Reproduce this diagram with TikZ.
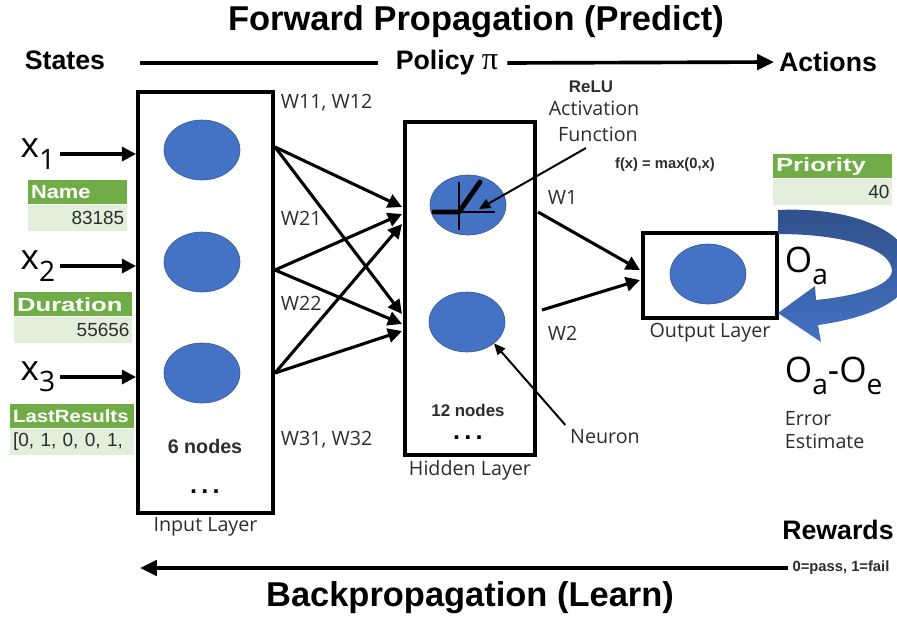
\documentclass[tikz,border=0pt]{standalone}
\usepackage{fontspec}
\setmainfont{Open Sans}
\newfontfamily\headfont{Liberation Sans}
\newfontfamily\greekfont{Liberation Serif}
\newfontfamily\cellfont[FakeStretch=1.15]{Liberation Sans}
\newfontfamily\cellwidefont[FakeStretch=1.35]{Liberation Sans}
\usetikzlibrary{arrows.meta,shapes.geometric,positioning}

\definecolor{neuronblue}{RGB}{68,114,196}
\definecolor{cellgreen}{RGB}{112,173,71}
\definecolor{celllight}{RGB}{226,239,218}
\definecolor{inktext}{RGB}{45,45,45}

\newcommand\lowsub[1]{\raisebox{-0.32em}{\fontsize{20}{20}\selectfont #1}}

\begin{document}
\begin{tikzpicture}[x=0.025cm,y=-0.025cm,
                    title/.style={font=\headfont\bfseries\fontsize{24.5}{28}\selectfont},
                    heading/.style={font=\headfont\bfseries\fontsize{19}{22}\selectfont},
                    caption/.style={font=\fontsize{14}{16}\selectfont,text=inktext},
                    weight/.style={caption,anchor=west},
                    note/.style={font=\headfont\bfseries\fontsize{10.5}{12}\selectfont,text=inktext},
                    count/.style={font=\headfont\bfseries\fontsize{12}{14}\selectfont,text=inktext,inner sep=1pt},
                    dots/.style={font=\headfont\bfseries\fontsize{18}{18}\selectfont,inner sep=0pt,
                                 text height=2.6pt,text depth=0pt},
                    symbol/.style={font=\fontsize{25}{28}\selectfont},
                    layer/.style={draw,line width=2.8pt,inner sep=0pt},
                    neuron/.style={ellipse,fill=neuronblue,draw=neuronblue!75!black,line width=0.4pt,
                                   minimum width=1.9cm,minimum height=1.5cm},
                    link/.style={line width=2.2pt,-{Triangle[length=10pt,width=10pt]}},
                    flow/.style={line width=2.6pt},
                    flow arrow/.style={flow,-{Triangle[length=12pt,width=11pt]}},
                    pointer/.style={line width=1.4pt,-{Triangle[length=8pt,width=7pt]}},
                    cell head/.style={fill=cellgreen,text=white,font=\cellfont\bfseries\fontsize{13.5}{15}\selectfont,
                                      minimum height=0.6cm,inner xsep=2pt,inner ysep=0pt,anchor=north west,align=left},
                    wide head/.style={cell head,font=\cellwidefont\bfseries\fontsize{13.5}{15}\selectfont},
                    cell value/.style={fill=celllight,text=inktext,font=\headfont\fontsize{13.5}{15}\selectfont,
                                       minimum height=0.65cm,inner xsep=2pt,inner ysep=0pt,align=right}]
    \useasboundingbox (0,0) rectangle (897,621);

    % forward pass along the top
    \node[title] (forward) at (476,22) {Forward Propagation (Predict)};
    \node[heading] (states) at (65,60) {States};
    \node[heading] (policy) at (447,63) {Policy {\greekfont\mdseries\fontsize{23}{22}\selectfont π}};
    \node[heading] (actions) at (828,62) {Actions};
    \coordinate (flow start) at (140,63);
    \draw[flow,shorten >=9pt] (flow start) -- (policy.west);
    \draw[flow arrow,shorten <=3pt] (policy.east) -- (actions.west);

    % layers
    \node[layer,minimum width=3.375cm,minimum height=10.525cm] (input) at (205.5,302.5) {};
    \node[layer,minimum width=3.25cm,minimum height=8.325cm] (hidden) at (470,288.5) {};
    \node[layer,minimum width=3.35cm,minimum height=2.125cm] (output) at (710,275.5) {};
    \node[caption,below=-2pt of input] (input label) {Input Layer};
    \node[caption,below=-1pt of hidden] (hidden label) {Hidden Layer};
    \node[caption,below=-1pt of output] (output label) {Output Layer};

    \node[neuron] (in1) at (202,150) {};
    \node[neuron] (in2) at (202,262) {};
    \node[neuron] (in3) at (202,373) {};
    \node[neuron] (h1) at (468,205) {};
    \node[neuron] (h2) at (467,322) {};
    \node[neuron] (out) at (708,274) {};

    \node[font=\headfont\bfseries\fontsize{14}{16}\selectfont,text=inktext] (input count) at (205,446) {6 nodes};
    \node[dots] (input dots) at (205,492) {.\,.\,.};
    \node[count] (hidden count) at (468,410) {12 nodes};
    \node[dots] (hidden dots) at (468,438) {.\,.\,.};

    % relu sketch inside the first hidden neuron
    \begin{scope}[shift={(h1.center)}]
        \draw[line width=1pt] (-9,-23) -- (-9,25);
        \draw[line width=1pt] (-36,7) -- (27,7);
        \draw[line width=3.5pt,line cap=round,line join=round] (-34,7) -- (-9,7) -- (12,-23);
    \end{scope}

    % inputs
    \node[symbol] (x1) at (38,154) {x\lowsub{1}};
    \node[symbol] (x2) at (38,266) {x\lowsub{2}};
    \node[symbol] (x3) at (38,377) {x\lowsub{3}};
    \draw[link] (x1.east) -- (x1.east -| input.west);
    \draw[link] (x2.east) -- (x2.east -| input.west);
    \draw[link] (x3.east) -- (x3.east -| input.west);

    \node[cell head,text width=2.33cm] (name head) at (28,180) {Name};
    \node[cell value,text width=2.33cm,below=0pt of name head] (name value) {83185};
    \node[wide head,text width=2.81cm] (duration head) at (14,292) {Duration};
    \node[cell value,text width=2.81cm,below=0pt of duration head] (duration value) {55656};
    \node[cell head,text width=2.96cm,font=\cellfont\bfseries\fontsize{12.6}{15}\selectfont] (results head) at (10,404) {LastResults};
    \node[cell value,text width=2.96cm,align=left,below=0pt of results head] (results value) {[0, 1, 0, 0, 1,};

    % weights between the layers
    \coordinate (s1) at (275,147);
    \coordinate (s2) at (275,270);
    \coordinate (s3) at (275,373);
    \coordinate (t1a) at (402,207);
    \coordinate (t2a) at (402,214);
    \coordinate (t3a) at (402,224);
    \coordinate (t1b) at (402,314);
    \coordinate (t2b) at (402,324);
    \coordinate (t3b) at (402,331);
    \draw[link] (s1) -- (t1a);
    \draw[link] (s1) -- (t1b);
    \draw[link] (s2) -- (t2a);
    \draw[link] (s2) -- (t2b);
    \draw[link] (s3) -- (t3a);
    \draw[link] (s3) -- (t3b);
    \node[weight] (w11) at (276,103) {W11, W12};
    \node[weight] (w21) at (276,218) {W21};
    \node[weight] (w22) at (276,303) {W22};
    \node[weight] (w31) at (276,440) {W31, W32};

    \coordinate (u1) at (538,212);
    \coordinate (u2) at (542,310);
    \coordinate (v1) at (640,270);
    \coordinate (v2) at (640,280);
    \draw[link] (u1) -- (v1);
    \draw[link] (u2) -- (v2);
    \node[weight] (w1) at (543,197) {W1};
    \node[weight] (w2) at (543,333) {W2};

    % annotations
    \node[note,font=\headfont\bfseries\fontsize{12}{14}\selectfont] (relu) at (591,87) {ReLU};
    \node[caption] (activation) at (594,108) {Activation};
    \node[caption] (function) at (598,134) {Function};
    \node[note] (fx) at (665,165) {f(x) = max(0,x)};
    \coordinate (relu tip) at (479,209);
    \draw[pointer] (586,148) -- (relu tip);
    \node[caption] (neuron) at (605,437) {Neuron};
    \draw[pointer] (neuron.north west) -- (h2.south east);

    % output side
    \node[wide head,text width=2.835cm] (priority head) at (773,154) {Priority};
    \node[cell value,text width=2.835cm,below=0pt of priority head] (priority value) {40};
    \shade[top color=neuronblue!70!black,bottom color=neuronblue]
        (778,210) .. controls (866,206) and (918,240) .. (912,275)
        .. controls (905,304) and (862,319) .. (818,325)
        -- (821,342) -- (778,313) -- (815,286) -- (816,300)
        .. controls (856,296) and (892,286) .. (892,270)
        .. controls (890,248) and (842,234) .. (778,234) -- cycle;
    \node[symbol,anchor=west] (oa) at (780,266) {O\lowsub{a}};
    \node[symbol,anchor=west] (oe) at (780,376) {O\lowsub{a}-O\lowsub{e}};
    \node[caption,anchor=west,align=left] (error) at (780,430) {Error\\Estimate};

    % backward pass along the bottom
    \node[heading] (rewards) at (838,530) {Rewards};
    \node[note] (reward values) at (841,568) {0=pass, 1=fail};
    \coordinate (back end) at (140,568);
    \draw[flow arrow] (reward values.west) -- (back end);
    \node[title] (backward) at (470,598) {Backpropagation (Learn)};
\end{tikzpicture}
\end{document}
